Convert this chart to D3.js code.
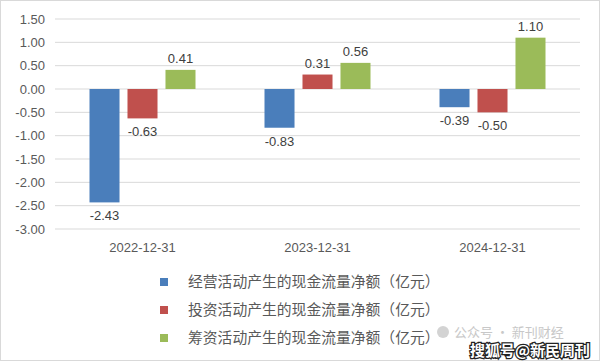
<!DOCTYPE html>
<html><head><meta charset="utf-8">
<script src="https://cdn.jsdelivr.net/npm/d3@7"></script>
<style>body{margin:0;background:#fff}svg{display:block}</style>
</head><body>
<svg id="c" width="600" height="361"></svg>
<script>
const categories = ["2022-12-31", "2023-12-31", "2024-12-31"];
const seriesNames = ["经营活动产生的现金流量净额（亿元）", "投资活动产生的现金流量净额（亿元）", "筹资活动产生的现金流量净额（亿元）"];
const operating = [-2.43, -0.83, -0.39];
const investing = [-0.63, 0.31, -0.50];
const financing = [0.41, 0.56, 1.10];
const yTicks = [1.5, 1.0, 0.5, 0.0, -0.5, -1.0, -1.5, -2.0, -2.5, -3.0];
const colors = ["#4A7EBB", "#C0504D", "#9BBB59"];
const series = [operating, investing, financing];

const svg = d3.select("#c");
svg.append("rect").attr("x",0.5).attr("y",0.5).attr("width",599).attr("height",360)
  .attr("fill","#fff").attr("stroke","#d9d9d9");

const x0 = d3.scaleBand().domain(categories).range([55, 580]);
const x1 = d3.scaleBand().domain([0,1,2]).range([0, 106]).paddingInner(0.21);
const y = d3.scaleLinear().domain([-3, 1.5]).range([229, 19]);

// grid
svg.append("g").selectAll("line").data(yTicks).join("line")
  .attr("x1",55).attr("x2",580).attr("y1",d=>y(d)).attr("y2",d=>y(d))
  .attr("stroke","#d9d9d9").attr("stroke-width",1);

// y axis
const yAxis = d3.axisLeft(y).tickValues(yTicks).tickFormat(d3.format(".2f")).tickSize(0).tickPadding(10);
const ga = svg.append("g").attr("transform","translate(55,0)").call(yAxis);
ga.select(".domain").remove();
ga.selectAll("text").attr("font-family","Liberation Sans, Arial, sans-serif").attr("font-size",13).attr("fill","#595959")
  .text(d=>d3.format(".2f")(d).replace("−","-"));

// x axis
const xAxis = d3.axisBottom(x0).tickSize(0).tickPadding(14);
const gx = svg.append("g").attr("transform","translate(0,229)").call(xAxis);
gx.select(".domain").remove();
gx.selectAll("text").attr("font-family","Liberation Sans, Arial, sans-serif").attr("font-size",13).attr("fill","#595959");

// bars
series.forEach((vals, si) => {
  const g = svg.append("g");
  g.selectAll("rect").data(vals).join("rect")
    .attr("x",(d,i)=>x0(categories[i]) + (x0.bandwidth()-106)/2 + x1(si))
    .attr("width",x1.bandwidth())
    .attr("y",d=>Math.min(y(d),y(0)))
    .attr("height",d=>Math.abs(y(d)-y(0)))
    .attr("fill",colors[si]);
  g.selectAll("text").data(vals).join("text")
    .attr("x",(d,i)=>x0(categories[i]) + (x0.bandwidth()-106)/2 + x1(si) + x1.bandwidth()/2)
    .attr("y",d=> d>=0 ? y(d)-7 : y(d)+18)
    .attr("text-anchor","middle")
    .attr("font-family","Liberation Sans, Arial, sans-serif").attr("font-size",13).attr("fill","#404040")
    .text(d=>d.toFixed(2));
});

// legend
const lg = svg.append("g");
seriesNames.forEach((n,i)=>{
  const yy = 282 + i*28;
  lg.append("rect").attr("x",160).attr("y",yy-4).attr("width",8).attr("height",8).attr("fill",colors[i]);
  lg.append("text").attr("x",188).attr("y",yy+5).attr("font-family","Noto Sans CJK SC").attr("font-size",14.8)
    .attr("fill","#595959").text(n);
});

// watermarks
svg.append("circle").attr("cx",443).attr("cy",332).attr("r",6).attr("fill","#c8c8c8").attr("opacity",0.8);
svg.append("text").attr("x",454).attr("y",337).attr("font-family","Noto Sans CJK SC").attr("font-size",13)
  .attr("fill","#c8c8c8").text("公众号 · 新刊财经");
svg.append("text").attr("x",470).attr("y",356).attr("font-family","Noto Sans CJK SC").attr("font-weight","bold")
  .attr("font-size",15).attr("fill","#fff").attr("stroke","#222").attr("stroke-width",2.5).attr("paint-order","stroke")
  .text("搜狐号@新民周刊");
</script>
</body></html>
